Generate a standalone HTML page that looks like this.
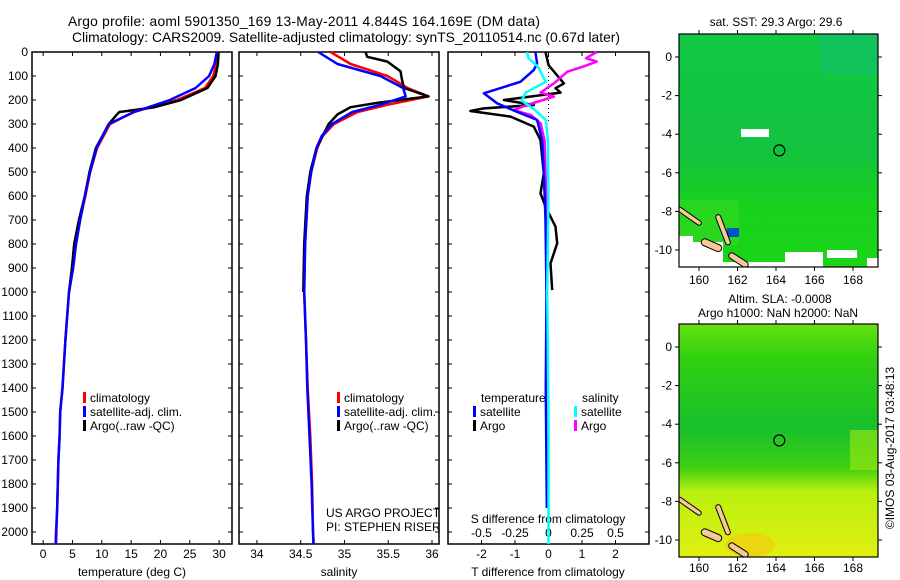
<!DOCTYPE html>
<html><head><meta charset="utf-8">
<style>
html,body{margin:0;padding:0;background:#fff;}
svg{display:block;font-family:"Liberation Sans",sans-serif;}
</style></head>
<body>
<svg id="chart" width="900" height="580" viewBox="0 0 900 580" xmlns="http://www.w3.org/2000/svg">
<text x="68" y="26" font-size="13.8" textLength="472" lengthAdjust="spacing">Argo profile: aoml 5901350_169 13-May-2011 4.844S 164.169E (DM data)</text>
<text x="72" y="42" font-size="13.8" textLength="548" lengthAdjust="spacingAndGlyphs">Climatology: CARS2009. Satellite-adjusted climatology: synTS_20110514.nc (0.67d later)</text>
<g id="g"></g>
</svg>
<script>
// ---------- data ----------
const depthTicks=[0,100,200,300,400,500,600,700,800,900,1000,1100,1200,1300,1400,1500,1600,1700,1800,1900,2000];
const tTicks=[0,5,10,15,20,25,30];
const sTicks=[34,34.5,35,35.5,36];
const dTTicks=[-2,-1,0,1,2];
const dSTicks=[-0.5,-0.25,0,0.25,0.5];
const dSTickLabels=["-0.5","-0.25","0","0.25","0.5"];

const climDepth=[0,50,100,150,200,250,300,400,500,600,700,800,900,1000,1200,1400,1500,1600,1700,1800,1900,2000,2050];
const climTemp=[29.7,29.5,29.0,27.6,22.8,15.4,11.4,9.2,8.0,7.2,6.3,5.6,5.1,4.4,3.8,3.3,2.9,2.8,2.6,2.5,2.4,2.2,2.1];
const satTemp=[29.6,29.2,28.3,26.0,21.6,15.5,11.2,9.1,8.0,7.1,6.3,5.6,5.1,4.4,3.8,3.3,2.9,2.8,2.6,2.5,2.4,2.25,2.2];
const argoDepth=[0,50,100,150,200,230,250,260,300,400,500,600,700,800,900,1000];
const argoTemp=[29.9,29.8,29.4,28.0,23.5,19.0,13.0,12.6,11.2,9.0,7.9,7.1,6.1,5.3,4.9,4.4];

const salDepthPeak=[0,50,100,150,185,220,250,300,350,400,500,600,800,1000];
const climSalPeak=[34.84,35.07,35.49,35.72,35.96,35.49,35.15,34.88,34.75,34.69,34.62,34.58,34.55,34.54];
const satSalPeak=[34.70,34.92,35.41,35.67,35.70,35.41,35.09,34.86,34.74,34.68,34.62,34.58,34.55,34.54];
const argoSalDepth=[0,20,40,80,120,150,185,210,230,260,300,400,500,600,800,1000];
const argoSal=[35.24,35.26,35.49,35.64,35.66,35.68,35.96,35.41,35.07,34.92,34.82,34.68,34.61,34.57,34.54,34.53];
const deepDepth=[1000,1200,1400,1600,1800,2000,2050];
const deepClimSal=[34.54,34.56,34.58,34.61,34.63,34.64,34.65];
const deepSatSal=[34.54,34.56,34.575,34.60,34.625,34.64,34.645];

const dTSatDepth=[0,47,75,124,172,214,249,283,367,500,700,1000,1400,1900];
const dTSat=[-0.39,-0.34,-0.44,-0.84,-1.93,-1.53,-0.94,-0.34,-0.19,-0.14,-0.09,-0.06,-0.08,-0.05];
const dTArgoDepth=[0,30,54,89,131,151,169,200,221,235,246,269,311,367,506,589,644,728,797,881,992];
const dTArgo=[-0.09,-0.04,0,0.21,0.46,0.21,0.36,-1.33,-0.44,-1.93,-2.33,-1.13,-0.44,-0.24,-0.14,-0.24,-0.09,0.21,0.26,0.06,0.11];
const dSSatDepth=[0,26,61,124,169,203,238,283,367,600,1000,1500,2050];
const dSSat=[-0.16,-0.15,-0.08,-0.02,-0.17,-0.2,-0.11,-0.02,-0.005,0,-0.01,0,0];
const dSArgoDepth=[0,26,40,61,82,131,169,186,221,242,263,297,367,644,992];
const dSArgo=[0.36,0.28,0.36,0.26,0.14,0.04,-0.06,0.04,-0.16,-0.26,-0.13,-0.06,-0.03,-0.015,-0.015];

// ---------- helpers ----------
const NS="http://www.w3.org/2000/svg";
const G=document.getElementById('g');
function el(tag,attrs,parent){const e=document.createElementNS(NS,tag);for(const k in attrs)e.setAttribute(k,attrs[k]);(parent||G).appendChild(e);return e;}
function txt(x,y,s,size,anchor,parent){const t=el('text',{x:x,y:y,'font-size':size||12,'text-anchor':anchor||'middle'},parent);t.textContent=s;return t;}
const yTop=52,yBot=544,dMax=2050;
const yD=d=>yTop+(d/dMax)*(yBot-yTop);
function xScale(x0,x1,v0,v1){return v=>x0+(v-v0)/(v1-v0)*(x1-x0);}
function line(xs,ys,xf,color,w,name){
  const pts=xs.map((v,i)=>xf(v).toFixed(1)+','+yD(ys[i]).toFixed(1)).join(' ');
  const p=el('polyline',{points:pts,fill:'none',stroke:color,'stroke-width':w||2,'stroke-linejoin':'round'});
  
  
}
function frame(x0,x1,name){
  const r=el('rect',{x:x0,y:yTop,width:x1-x0,height:yBot-yTop,fill:'none',stroke:'#000','stroke-width':1.5});
  
  
  depthTicks.forEach(d=>{el('line',{x1:x0,x2:x0+4,y1:yD(d),y2:yD(d),stroke:'#000'});el('line',{x1:x1,x2:x1-4,y1:yD(d),y2:yD(d),stroke:'#000'});});
}
function xTicks(xf,vals,labels,y0,name){
  vals.forEach((v,i)=>{el('line',{x1:xf(v),x2:xf(v),y1:yBot,y2:yBot-4,stroke:'#000'});el('line',{x1:xf(v),x2:xf(v),y1:yTop,y2:yTop+4,stroke:'#000'});
    const t=txt(xf(v),y0,labels[i],12);});
}
function legendEntry(x,y,color,label,name){
  el('rect',{x:x,y:y-10,width:3,height:11,fill:color});
  const t=txt(x+7,y,label,12,'start');
  
  
}

// ---------- panel 1: temperature ----------
const xT=xScale(32,232,-1.9,32.2);
frame(32,232,'temperature-panel');
depthTicks.forEach(d=>{const t=txt(28,yD(d)+4,String(d),12,'end');});
xTicks(xT,tTicks,tTicks.map(String),558,'temperature-tick-label');
{const t=txt(132,576,'temperature (deg C)',12);}
line(climTemp,climDepth,xT,'#ff0000',2.5,'temperature-climatology-line');
line(argoTemp,argoDepth,xT,'#000',2.5,'temperature-argo-line');
line(satTemp,climDepth,xT,'#0000ff',2.5,'temperature-satellite-line');
legendEntry(83,402,'#ff0000','climatology','legend-climatology');
legendEntry(83,416,'#0000ff','satellite-adj. clim.','legend-satellite');
legendEntry(83,430,'#000','Argo(..raw -QC)','legend-argo');

// ---------- panel 2: salinity ----------
const xS=xScale(239,439,33.795,36.08);
frame(239,439,'salinity-panel');
xTicks(xS,sTicks,["34","34.5","35","35.5","36"],558,'salinity-tick-label');
{const t=txt(339,576,'salinity',12);}
line(climSalPeak,salDepthPeak,xS,'#ff0000',2.5,'salinity-climatology-line');
line(deepClimSal,deepDepth,xS,'#ff0000',2.5,'salinity-climatology-deep-line');
line(argoSal,argoSalDepth,xS,'#000',2.5,'salinity-argo-line');
line(satSalPeak,salDepthPeak,xS,'#0000ff',2.5,'salinity-satellite-line');
line(deepSatSal,deepDepth,xS,'#0000ff',2.5,'salinity-satellite-deep-line');
legendEntry(337,402,'#ff0000','climatology','legend-climatology-2');
legendEntry(337,416,'#0000ff','satellite-adj. clim.','legend-satellite-2');
legendEntry(337,430,'#000','Argo(..raw -QC)','legend-argo-2');
{const t=txt(326,517,'US ARGO PROJECT',12,'start');}
{const t=txt(326,531,'PI: STEPHEN RISER',12,'start');}

// ---------- panel 3: differences ----------
const xdT=xScale(448,649,-3,3);
const xdS=xScale(448,649,-0.75,0.75);
frame(448,649,'difference-panel');
xTicks(xdT,dTTicks,dTTicks.map(String),558,'t-difference-tick-label');
dSTicks.forEach((v,i)=>{const t=txt(xdS(v),537,dSTickLabels[i],12);});
{const t=txt(548,523,'S difference from climatology',12);}
{const t=txt(548,576,'T difference from climatology',12);}
el('line',{x1:xdT(0),x2:xdT(0),y1:yTop,y2:yD(300),stroke:'#000','stroke-dasharray':'1,3'});
line(dTArgo,dTArgoDepth,xdT,'#000',2.5,'t-diff-argo-line');
line(dSArgo,dSArgoDepth,xdS,'#ff00ff',2.5,'s-diff-argo-line');
line(dTSat,dTSatDepth,xdT,'#0000ff',2.5,'t-diff-satellite-line');
line(dSSat,dSSatDepth,xdS,'#00ffff',2.5,'s-diff-satellite-line');
{const t=txt(481,402,'temperature',12,'start');}
{const t=txt(582,402,'salinity',12,'start');}
legendEntry(473,416,'#0000ff','satellite','legend-t-satellite');
legendEntry(473,430,'#000','Argo','legend-t-argo');
legendEntry(574,416,'#00ffff','satellite','legend-s-satellite');
legendEntry(574,430,'#ff00ff','Argo','legend-s-argo');

// ---------- maps ----------
const lonTicks=[160,162,164,166,168];
const latTicks=[0,-2,-4,-6,-8,-10];
const floatLon=164.17, floatLat=-4.84;
function map(y0,name,stops){
  const x0=679,x1=878,h=233;
  const lx=lon=>699+(lon-160)*19.25;
  const ly=lat=>y0+23-lat*19.3;
  const gid='grad-'+name;
  const cid='clip-'+name;
  const defs=el('defs',{});
  const lg=el('linearGradient',{id:gid,x1:0,y1:0,x2:0,y2:1},defs);
  stops.forEach(s=>el('stop',{offset:s[0],'stop-color':s[1]},lg));
  const cp=el('clipPath',{id:cid},defs);
  el('rect',{x:x0,y:y0,width:x1-x0,height:h},cp);
  const grp=el('g',{'clip-path':'url(#'+cid+')'});
  const r=el('rect',{x:x0,y:y0,width:x1-x0,height:h,fill:'url(#'+gid+')'},grp);
  
  
  return {x0,x1,h,lx,ly,y0,grp};
}
function islands(m){
  const isl=[[161.0,-8.3,161.5,-9.6,4],[160.3,-9.6,161.0,-9.9,6],[161.7,-10.3,162.4,-10.75,5],[159.0,-7.9,160.0,-8.6,3.5]];
  isl.forEach(a=>{
    const e=el('line',{x1:m.lx(a[0]),y1:m.ly(a[1]),x2:m.lx(a[2]),y2:m.ly(a[3]),stroke:'#000','stroke-width':a[4]+2,'stroke-linecap':'round'},m.grp);
    
    
    el('line',{x1:m.lx(a[0]),y1:m.ly(a[1]),x2:m.lx(a[2]),y2:m.ly(a[3]),stroke:'#f8c898','stroke-width':a[4],'stroke-linecap':'round'},m.grp);
  });
}
function mapFrame(m,name,labelY){
  const r=el('rect',{x:m.x0,y:m.y0,width:m.x1-m.x0,height:m.h,fill:'none',stroke:'#000','stroke-width':1.2});
  
  
  lonTicks.forEach(v=>{el('line',{x1:m.lx(v),x2:m.lx(v),y1:m.y0,y2:m.y0-4,stroke:'#000'});el('line',{x1:m.lx(v),x2:m.lx(v),y1:m.y0+m.h,y2:m.y0+m.h+4,stroke:'#000'});
    const t=txt(m.lx(v),labelY,String(v),12);});
  latTicks.forEach(v=>{el('line',{x1:m.x0,x2:m.x0-4,y1:m.ly(v),y2:m.ly(v),stroke:'#000'});el('line',{x1:m.x1,x2:m.x1+4,y1:m.ly(v),y2:m.ly(v),stroke:'#000'});
    const t=txt(672,m.ly(v)+4,String(v),12,'end');});
  const c=el('circle',{cx:m.lx(floatLon),cy:m.ly(floatLat),r:5.5,fill:'none',stroke:'#000','stroke-width':1.2});
  
  
}
// SST map
const m1=map(34,'sst-map',[[0,'#12c845'],[0.5,'#12c33f'],[0.75,'#17d21c'],[1,'#1ad418']]);
const g1=m1.grp;
el('rect',{x:820,y:34,width:58,height:40,fill:'#12c06a',opacity:0.6},g1);
el('rect',{x:679,y:200,width:60,height:45,fill:'#30d820',opacity:0.8},g1);
el('rect',{x:741,y:129,width:28,height:8,fill:'#fff'},g1);
el('rect',{x:679,y:236,width:14,height:31,fill:'#fff'},g1);
el('rect',{x:693,y:242,width:30,height:25,fill:'#fff'},g1);
el('rect',{x:715,y:262,width:75,height:5,fill:'#fff'},g1);
el('rect',{x:785,y:252,width:38,height:15,fill:'#fff'},g1);
el('rect',{x:827,y:250,width:30,height:8,fill:'#fff'},g1);
el('rect',{x:867,y:258,width:11,height:9,fill:'#fff'},g1);
el('rect',{x:727,y:228,width:12,height:9,fill:'#0050d0'},g1);
islands(m1);
mapFrame(m1,'sst-map',284);
// SLA map
const m2=map(324,'sla-map',[[0,'#66e010'],[0.15,'#30d010'],[0.45,'#18c02c'],[0.62,'#40d010'],[0.72,'#b8f010'],[1,'#e0f010']]);
el('rect',{x:850,y:430,width:28,height:40,fill:'#a0ea10',opacity:0.6},m2.grp);
el('ellipse',{cx:750,cy:545,rx:25,ry:12,fill:'#f0d010',opacity:0.8},m2.grp);
islands(m2);
mapFrame(m2,'sla-map',572);
{const t=txt(776,26,'sat. SST: 29.3 Argo: 29.6',12);}
{const t=txt(780,303,'Altim. SLA: -0.0008',12);}
{const t=txt(778,317,'Argo h1000: NaN h2000: NaN',12);}
{const t=txt(0,0,'©IMOS 03-Aug-2017 03:48:13',12);t.setAttribute('transform','translate(894,448) rotate(-90)');}
</script>
</body></html>
